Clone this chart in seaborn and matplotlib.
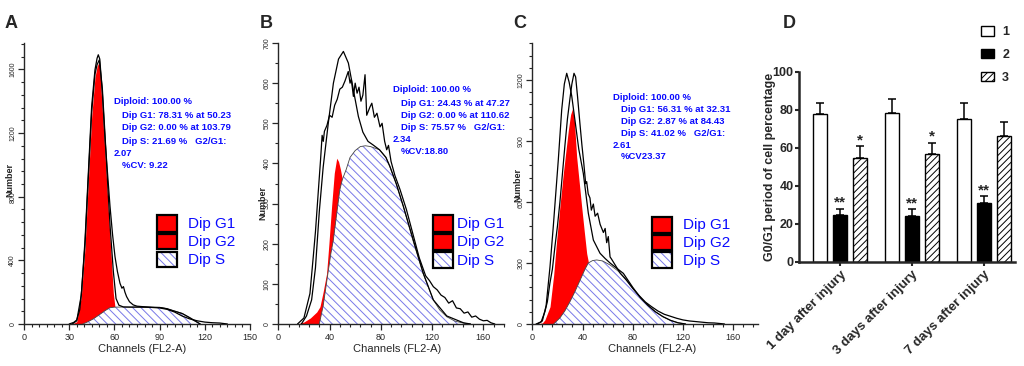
import numpy as np
import pandas as pd
import matplotlib
matplotlib.use("Agg")
import matplotlib.pyplot as plt
import matplotlib.patches as mpatches
from matplotlib.ticker import MultipleLocator
import seaborn as sns

# ---------------- panel A : histogram ----------------
a_raw_ch = [30, 33, 35, 37, 38.3, 40.5, 42.7, 44.9, 47.1, 48.5, 49.3, 50.3, 52, 53.8, 55.5, 57.1, 58.8,
            60.4, 62, 63.7, 65, 66, 67, 68.1, 70, 72.5, 75, 80, 85, 90, 95, 100, 105, 110, 115, 120,
            125, 130, 135]
a_raw_n = [0, 10, 25, 90, 214, 528, 948, 1367, 1597, 1670, 1692, 1665, 1450, 1157, 940, 738, 560,
           423, 330, 256, 225, 235, 200, 172, 140, 120, 112, 108, 104, 101, 92, 75, 50, 32, 20, 12,
           8, 6, 0]
a_fit_ch = [32, 35, 38, 40.5, 42.7, 44.9, 47.1, 48.5, 50, 52, 54, 56, 57.1, 59.3, 61.1, 63, 66, 70,
            80, 90, 95, 100, 105, 110, 117]
a_fit_n = [0, 20, 180, 500, 920, 1330, 1570, 1630, 1660, 1480, 1150, 800, 620, 330, 160, 118, 107,
           106, 106, 104, 96, 80, 66, 40, 0]
a_g1_ch = [32, 35, 38, 40.5, 42.7, 44.9, 47.1, 48.5, 50, 52, 54, 56, 58, 59.3, 60.4, 62, 64, 66]
a_g1_n = [0, 15, 170, 480, 900, 1300, 1550, 1620, 1650, 1340, 1030, 710, 400, 193, 105, 50, 15, 0]
a_s_ch = [39, 42, 46, 50, 54, 57, 60, 70, 80, 90, 93, 97, 101, 105, 109, 113, 117]
a_s_n = [0, 12, 32, 58, 85, 102, 106, 107, 106, 104, 100, 90, 79, 66, 44, 20, 0]
a_info = ["Diploid: 100.00 %", "Dip G1: 78.31 % at 50.23", "Dip G2: 0.00 % at 103.79",
          "Dip S: 21.69 %   G2/G1:", "2.07", "%CV: 9.22"]

# ---------------- panel B : histogram ----------------
b_raw_ch = [15, 20, 24.7, 27.3, 29, 31.3, 33, 34.2, 35.1, 36, 38, 40, 42, 44, 46, 48, 50, 52, 54.6,
            56, 57, 58.6, 60, 61.5, 63, 64.5, 66, 67.7, 69, 71.6, 73, 75, 77, 79.4, 81, 83, 84.6, 86,
            88, 91, 95, 100, 105, 110, 115, 118, 121, 124, 127, 130, 133, 136, 139, 142, 145, 148,
            151, 154, 157, 160, 163, 166, 169]
b_raw_n = [0, 15, 76, 168, 230, 334, 410, 470, 455, 480, 495, 520, 515, 545, 560, 585, 590, 605, 629,
           600, 610, 567, 600, 575, 590, 555, 570, 621, 520, 541, 550, 515, 525, 491, 500, 455, 434,
           445, 405, 370, 335, 285, 225, 165, 120, 108, 93, 85, 72, 66, 52, 58, 40, 38, 27, 30, 17,
           20, 12, 8, 9, 3, 0]
b_fit_ch = [18, 22, 26, 29, 32, 35, 39, 43, 47, 50.8, 54.7, 58.6, 62.5, 66, 70, 74, 79, 84, 87.2, 92,
            97.6, 105.4, 113.2, 121, 131.5, 144.5, 150]
b_fit_n = [0, 20, 60, 140, 280, 390, 500, 600, 660, 679, 650, 583, 517, 478, 455, 446, 434, 415, 392,
           350, 293, 209, 126, 60, 20, 3, 0]
b_g1_ch = [15, 20, 25, 30, 32.5, 35, 37.7, 39.5, 41.6, 43.7, 45.6, 47, 48.5, 50, 52, 54, 57, 60, 65,
           70, 75]
b_g1_n = [0, 5, 15, 30, 43, 80, 126, 200, 293, 376, 413, 405, 385, 360, 330, 290, 220, 150, 60, 15, 0]
b_s_ch = [32, 35, 38, 41, 43, 46, 48, 50, 53, 56, 60, 64, 68, 72, 79, 84, 87, 92, 97.6, 105, 113, 121,
          126, 131.5, 138, 145, 150]
b_s_n = [0, 45, 110, 175, 210, 285, 334, 360, 385, 415, 432, 442, 444, 442, 434, 415, 392, 350, 293,
         209, 126, 60, 35, 18, 7, 2, 0]
b_info = ["Diploid: 100.00 %", "Dip G1: 24.43 % at 47.27", "Dip G2: 0.00 % at 110.62",
          "Dip S: 75.57 %   G2/G1:", "2.34", "%CV:18.80"]

# ---------------- panel C : histogram ----------------
c_raw_ch = [3, 7, 10, 12, 14, 16, 18, 20, 22, 24, 26, 28, 30, 31.5, 33.2, 34.5, 36, 37.9, 39.5, 41,
            42.5, 43.3, 44.5, 45.9, 47, 48.6, 50, 52, 54, 56.6, 58, 59.2, 60.5, 61.9, 63, 66, 70, 75,
            80, 85, 90, 95, 100, 105, 110, 115, 120, 125, 130, 135, 140, 145, 150, 153]
c_raw_n = [0, 10, 60, 110, 200, 270, 380, 480, 600, 740, 880, 1010, 1110, 1180, 1233, 1215, 1120,
           987, 880, 790, 690, 700, 640, 620, 560, 590, 530, 545, 490, 450, 470, 400, 430, 330, 320,
           290, 250, 215, 175, 140, 108, 85, 64, 48, 38, 28, 20, 15, 12, 9, 6, 5, 2, 0]
c_fit_ch = [4, 8, 11, 14.1, 16.7, 20.7, 23.4, 25.5, 27.4, 29.3, 31.4, 34, 37, 40.6, 44.6, 48.6, 53.9,
            58, 61.9, 66, 72.5, 80, 86, 92, 98, 104, 110, 116, 122]
c_fit_n = [0, 15, 90, 282, 479, 807, 1053, 1180, 1233, 1190, 1121, 1000, 860, 741, 545, 413, 348, 322,
           300, 280, 249, 180, 130, 92, 60, 36, 18, 6, 0]
c_g1_ch = [3, 8, 10, 14.1, 17, 19.4, 22, 24.7, 28.7, 30.5, 32.1, 33.5, 35.3, 37.3, 39.3, 41.3, 43.3,
           44.6, 47, 50, 55]
c_g1_n = [0, 5, 20, 85, 240, 413, 580, 741, 954, 1030, 1061, 1000, 823, 700, 577, 460, 347, 306, 200,
          100, 20]
c_s_ch = [17, 22, 26, 30, 34, 38, 42, 44.6, 48, 51.3, 56, 62, 68, 74, 80, 86, 92, 98, 104, 110, 116, 122]
c_s_n = [0, 30, 65, 110, 160, 215, 270, 300, 312, 315, 310, 290, 262, 225, 175, 130, 92, 60, 36, 18, 6, 0]
c_info = ["Diploid: 100.00 %", "Dip G1: 56.31 % at 32.31", "Dip G2: 2.87 % at 84.43",
          "Dip S: 41.02 %   G2/G1:", "2.61", "%CV23.37"]

legend_names = ["Dip G1", "Dip G2", "Dip S"]

# ---------------- panel D : bars ----------------
days = ["1 day after injury", "3 days after injury", "7 days after injury"]
grp_names = ["1", "2", "3"]
grp1_vals = [77.5, 78.5, 75.0]
grp1_err = [6.2, 7.0, 8.3]
grp2_vals = [24.5, 24.0, 31.0]
grp2_err = [3.5, 3.5, 3.4]
grp3_vals = [54.8, 56.5, 66.0]
grp3_err = [6.0, 6.2, 7.4]
stars = [["", "", ""], ["**", "**", "**"], ["*", "*", ""]]

# ---------------------------------------------------------------
W, H = 1024, 366
sns.set_style("ticks")
plt.rcParams["font.family"] = ["Liberation Sans", "DejaVu Sans"]
plt.rcParams["hatch.linewidth"] = 0.7

RED = "#ff0000"
BLUE_TXT = "#0a0aff"
HATCH_BLUE = "#7878e8"
S_HATCH = "\\" * 4
BAR_HATCH = "/" * 5

fig = plt.figure(figsize=(W / 100, H / 100), dpi=100)
fig.patch.set_facecolor("white")


def add_ax(left, top, right, bottom):
    return fig.add_axes([left / W, 1 - bottom / H, (right - left) / W, (bottom - top) / H])


def fx(x):
    return x / W


def fy(y):
    return 1 - y / H


def draw_hist(ax, raw, fit, g1, s, xmax, ymax, xmaj, xmin, ymaj, ymin, xlab_x, ylab_xy):
    ax.fill_between(g1[0], 0, g1[1], color=RED, lw=0, zorder=1)
    ax.fill_between(s[0], 0, s[1], facecolor="white", edgecolor=HATCH_BLUE,
                    hatch=S_HATCH, lw=0, zorder=2)
    sns.lineplot(x=s[0], y=s[1], ax=ax, color="#444444", lw=0.6, estimator=None, sort=False, zorder=3)
    sns.lineplot(x=fit[0], y=fit[1], ax=ax, color="black", lw=0.9, estimator=None, sort=False, zorder=4)
    sns.lineplot(x=raw[0], y=raw[1], ax=ax, color="black", lw=0.9, estimator=None, sort=False, zorder=5)
    ax.set_xlim(0, xmax)
    ax.set_ylim(0, ymax)
    ax.xaxis.set_major_locator(MultipleLocator(xmaj))
    ax.xaxis.set_minor_locator(MultipleLocator(xmin))
    ax.yaxis.set_major_locator(MultipleLocator(ymaj))
    ax.yaxis.set_minor_locator(MultipleLocator(ymin))
    sns.despine(ax=ax)
    for sp in ("left", "bottom"):
        ax.spines[sp].set_linewidth(1.0)
    ax.tick_params(axis="both", which="major", length=4, width=0.9, direction="out")
    ax.tick_params(axis="both", which="minor", length=2.5, width=0.8, direction="out")
    ax.tick_params(axis="x", labelsize=6.5, pad=2.5)
    ax.tick_params(axis="y", labelsize=5, pad=1.5, labelrotation=90)
    for lab in ax.get_yticklabels():
        lab.set_va("center")
    ax.set_xlabel("Channels (FL2-A)", fontsize=8, va="center")
    ax.xaxis.set_label_coords(xlab_x, -(349 - 324) / 281)
    ax.set_ylabel("Number", fontsize=6.5, fontweight="bold", va="center")
    ax.yaxis.set_label_coords(*ylab_xy)
    ax.set_facecolor("white")


def draw_info(x0, y_lines, lines):
    indents = [0, 8, 8, 8, 0, 8]
    for txt, y, ind in zip(lines, y_lines, indents):
        fig.text(fx(x0 + ind), fy(y), txt, fontsize=6.8, fontweight="bold", color=BLUE_TXT,
                 va="center", ha="left")


def draw_box_legend(x0, rows, text_x):
    for i, (top, bot) in enumerate(rows):
        if i < 2:
            p = mpatches.Rectangle((fx(x0), fy(bot)), 20 / W, (bot - top) / H,
                                   transform=fig.transFigure, facecolor=RED, edgecolor="black", lw=1.6)
        else:
            fig.add_artist(mpatches.Rectangle((fx(x0), fy(bot)), 20 / W, (bot - top) / H,
                                              transform=fig.transFigure, facecolor="white",
                                              edgecolor=HATCH_BLUE, hatch=S_HATCH, lw=0))
            p = mpatches.Rectangle((fx(x0), fy(bot)), 20 / W, (bot - top) / H,
                                   transform=fig.transFigure, facecolor="none", edgecolor="black",
                                   lw=1.6)
        fig.add_artist(p)
        fig.text(fx(text_x), fy((top + bot) / 2 + 0.5), legend_names[i], fontsize=11,
                 color=BLUE_TXT, va="center", ha="left")


# ---- A ----
axA = add_ax(24, 43, 250, 324)
draw_hist(axA, (a_raw_ch, a_raw_n), (a_fit_ch, a_fit_n), (a_g1_ch, a_g1_n), (a_s_ch, a_s_n),
          150, 1766, 30, 5, 400, 80, 0.522, (-0.062, 0.512))
draw_info(114, [101.5, 115, 128, 141.5, 153.5, 165.5], a_info)
draw_box_legend(157, [(215, 232), (233.5, 249), (251.5, 267)], 188)

# ---- B ----
axB = add_ax(278.3, 43, 503.8, 324)
draw_hist(axB, (b_raw_ch, b_raw_n), (b_fit_ch, b_fit_n), (b_g1_ch, b_g1_n), (b_s_ch, b_s_n),
          176, 700, 40, 8, 100, 50, 0.525, (-0.068, 0.43))
draw_info(393, [90, 103, 116, 128, 139.5, 151], b_info)
draw_box_legend(433, [(215, 232), (233.5, 250), (252, 268)], 457)

# ---- C ----
axC = add_ax(532.3, 43, 758.4, 324)
draw_hist(axC, (c_raw_ch, c_raw_n), (c_fit_ch, c_fit_n), (c_g1_ch, c_g1_n), (c_s_ch, c_s_n),
          180, 1382, 40, 8, 300, 60, 0.528, (-0.063, 0.495))
draw_info(613, [97, 109, 122, 133.5, 145, 157], c_info)
draw_box_legend(652, [(217, 233), (234.5, 250), (252, 268)], 683)

# ---- D ----
axD = add_ax(799, 71.7, 1015, 261.7)
df = pd.DataFrame({
    "day": days * 3,
    "grp": [g for g in grp_names for _ in days],
    "val": grp1_vals + grp2_vals + grp3_vals,
})
sns.barplot(data=df, x="day", y="val", hue="grp", palette=["white", "black", "white"],
            edgecolor="black", linewidth=1.0, width=0.83, gap=0.3, errorbar=None,
            saturation=1, legend=False, ax=axD)
errs = [grp1_err, grp2_err, grp3_err]
vals = [grp1_vals, grp2_vals, grp3_vals]
bar_groups = list(axD.containers)[:3]
for gi, cont in enumerate(bar_groups):
    for bi, bar in enumerate(cont.patches):
        if gi == 2:
            bar.set_hatch(BAR_HATCH)
        xc = bar.get_x() + bar.get_width() / 2
        top = vals[gi][bi]
        axD.errorbar(xc, top, yerr=[[0], [errs[gi][bi]]], fmt="none", ecolor="black",
                     elinewidth=1.1, capsize=3, capthick=1.1, zorder=3)
        if stars[gi][bi]:
            axD.text(xc, top + errs[gi][bi] - 0.5, stars[gi][bi], ha="center", va="bottom",
                     fontsize=11, fontweight="bold")
axD.set_xlim(-0.57, 2.43)
axD.set_ylim(0, 100)
axD.yaxis.set_major_locator(MultipleLocator(20))
sns.despine(ax=axD)
for sp in ("left", "bottom"):
    axD.spines[sp].set_linewidth(1.8)
axD.tick_params(axis="y", length=3, width=1.5, pad=1, labelsize=9)
axD.tick_params(axis="x", length=3, width=1.5, pad=2, labelsize=9.5)
for lab in axD.get_yticklabels():
    lab.set_fontweight("bold")
plt.setp(axD.get_xticklabels(), rotation=45, ha="right", rotation_mode="anchor", fontweight="bold")
axD.set_xlabel("")
axD.set_ylabel("G0/G1 period of cell percentage", fontsize=9, fontweight="bold", va="center")
axD.yaxis.set_label_coords(-0.134, 0.498)

handles = [mpatches.Patch(facecolor="white", edgecolor="black", lw=1.0, label="1"),
           mpatches.Patch(facecolor="black", edgecolor="black", lw=1.0, label="2"),
           mpatches.Patch(facecolor="white", edgecolor="black", lw=1.0, hatch=BAR_HATCH, label="3")]
leg = fig.legend(handles=handles, loc="upper left", bbox_to_anchor=(fx(981), fy(26)),
                 frameon=False, handlelength=1.0, handleheight=0.8, labelspacing=0.85,
                 handletextpad=0.7, borderpad=0, borderaxespad=0,
                 prop={"weight": "bold", "size": 9})

# panel letters
for letter, x in zip(["A", "B", "C", "D"], [5, 260, 513, 783]):
    fig.text(fx(x), fy(23), letter, fontsize=13, fontweight="bold", va="center", ha="left")

fig.savefig("out.png", dpi=100, facecolor="white")
